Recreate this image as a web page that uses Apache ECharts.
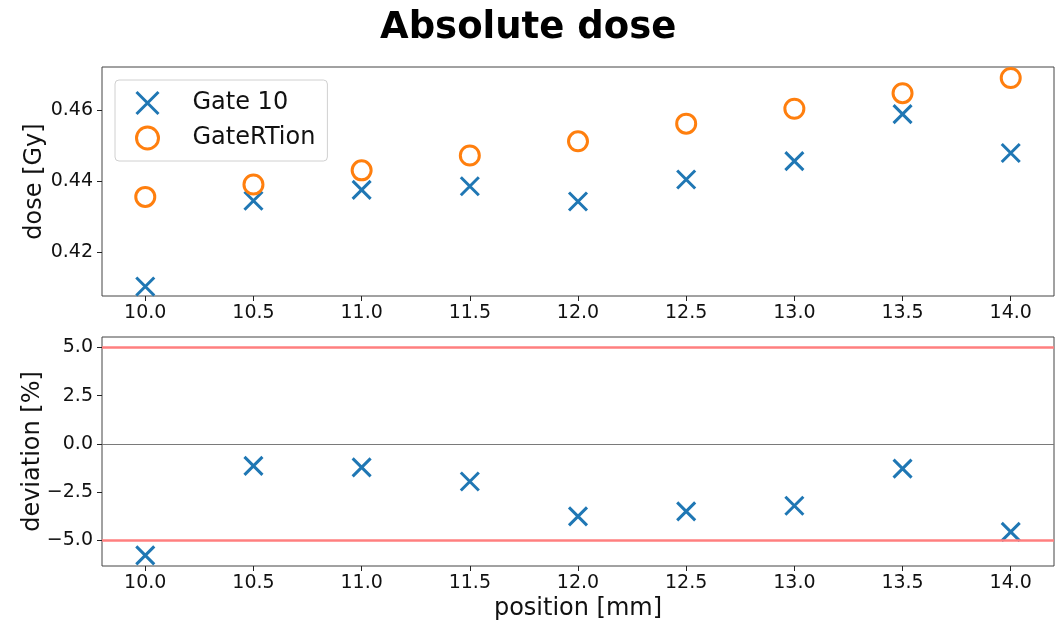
<!DOCTYPE html>
<html>
<head>
<meta charset="utf-8">
<title>Absolute dose</title>
<script src="https://cdn.jsdelivr.net/npm/echarts@6/dist/echarts.min.js"></script>
<style>
  html, body { margin: 0; padding: 0; background: #ffffff; }
  #chart { width: 1063px; height: 622px; }
</style>
</head>
<body>
<div id="chart"></div>
<script>
// Measurement positions along the profile [mm]
const positions = [10.0, 10.5, 11.0, 11.5, 12.0, 12.5, 13.0, 13.5, 14.0];
// Absolute dose per position [Gy]
const gate10 = [0.4102, 0.4344, 0.4375, 0.4385, 0.4342, 0.4404, 0.4456, 0.4589, 0.4479];
const gateRTion = [0.4355, 0.4390, 0.4430, 0.4472, 0.4512, 0.4562, 0.4604, 0.4648, 0.4691];
// Relative deviation of Gate 10 from GateRTion [%]
const deviation = [-5.78, -1.14, -1.22, -1.95, -3.76, -3.50, -3.21, -1.28, -4.56];
// Tick positions
const xTicks = [10.0, 10.5, 11.0, 11.5, 12.0, 12.5, 13.0, 13.5, 14.0];
const doseTicks = [0.42, 0.44, 0.46];
const devTicks = [-5.0, -2.5, 0.0, 2.5, 5.0];
// Tolerance band [%]
const tolerance = [5.0, -5.0];

const FONT = 'DejaVu Sans';
const BLUE = '#1f77b4';
const ORANGE = '#ff7f0e';
const CROSS = 'path://M0,0L20,20M20,0L0,20';

const pairs = (xs, ys) => xs.map((x, i) => [x, ys[i]]);
const fmtMinus = (v, d) => {
  const s = Math.abs(v).toFixed(d);
  return (v < -1e-9 ? '\u2212' : '') + s;
};

const axisLineStyle = { show: false, onZero: false };
const tickStyle = { show: true, inside: false, length: 5, lineStyle: { color: '#222', width: 1 } };
const labelStyle = { color: '#111', fontFamily: FONT, fontSize: 19 };
const nameStyle = { fontFamily: FONT, fontSize: 24, color: '#111' };

function xAxisFor(gridIndex, withName) {
  return {
    type: 'value', gridIndex: gridIndex,
    min: 9.8, max: 14.2,
    axisLine: axisLineStyle,
    splitLine: { show: false },
    axisTick: Object.assign({ customValues: xTicks }, tickStyle),
    axisLabel: Object.assign({ customValues: xTicks, margin: 8, formatter: v => v.toFixed(1) }, labelStyle),
    name: withName ? 'position [mm]' : '',
    nameLocation: 'middle',
    nameGap: 31,
    nameMoveOverlap: false,
    nameTextStyle: nameStyle
  };
}

const option = {
  animation: false,
  backgroundColor: '#ffffff',
  title: {
    text: 'Absolute dose',
    left: 375, top: 5,
    textStyle: { fontFamily: FONT, fontSize: 37, fontWeight: 'bold', color: '#000' }
  },
  legend: {
    orient: 'vertical',
    left: 115, top: 80,
    padding: [10, 12, 10, 20],
    itemWidth: 26, itemHeight: 22, itemGap: 9,
    backgroundColor: 'rgba(255,255,255,0.8)',
    borderColor: '#d0d0d0', borderWidth: 1, borderRadius: 4,
    textStyle: { fontFamily: FONT, fontSize: 24, color: '#111', lineHeight: 26, padding: [0, 0, 0, 27] },
    data: [
      { name: 'Gate 10', icon: CROSS, itemStyle: { color: 'rgba(0,0,0,0)', borderColor: BLUE, borderWidth: 3 } },
      { name: 'GateRTion', icon: 'circle', itemStyle: { color: 'rgba(0,0,0,0)', borderColor: ORANGE, borderWidth: 3 } }
    ]
  },
  grid: [
    { left: 102, top: 67, width: 952, height: 229, show: true, borderColor: '#444', borderWidth: 1, backgroundColor: 'transparent' },
    { left: 102, top: 337, width: 952, height: 230, show: true, borderColor: '#444', borderWidth: 1, backgroundColor: 'transparent' }
  ],
  xAxis: [xAxisFor(0, false), xAxisFor(1, true)],
  yAxis: [
    {
      type: 'value', gridIndex: 0,
      min: 0.4075, max: 0.4722,
      axisLine: axisLineStyle,
      splitLine: { show: false },
      axisTick: Object.assign({ customValues: doseTicks }, tickStyle),
      axisLabel: Object.assign({ customValues: doseTicks, margin: 9, formatter: v => v.toFixed(2) }, labelStyle),
      name: 'dose [Gy]', nameLocation: 'middle', nameGap: 55, nameMoveOverlap: false,
      nameTextStyle: nameStyle
    },
    {
      type: 'value', gridIndex: 1,
      min: -6.33, max: 5.54,
      axisLine: axisLineStyle,
      splitLine: { show: false },
      axisTick: Object.assign({ customValues: devTicks }, tickStyle),
      axisLabel: Object.assign({ customValues: devTicks, margin: 9, formatter: v => fmtMinus(v, 1) }, labelStyle),
      name: 'deviation [%]', nameLocation: 'middle', nameGap: 57, nameMoveOverlap: false,
      nameTextStyle: nameStyle
    }
  ],
  series: [
    {
      name: 'Gate 10', type: 'scatter', xAxisIndex: 0, yAxisIndex: 0,
      data: pairs(positions, gate10),
      symbol: CROSS, symbolSize: 18,
      itemStyle: { color: 'rgba(0,0,0,0)', borderColor: BLUE, borderWidth: 3, opacity: 1 },
      z: 3
    },
    {
      name: 'GateRTion', type: 'scatter', xAxisIndex: 0, yAxisIndex: 0,
      data: pairs(positions, gateRTion),
      symbol: 'circle', symbolSize: 19,
      itemStyle: { color: 'rgba(0,0,0,0)', borderColor: ORANGE, borderWidth: 3, opacity: 1 },
      z: 4
    },
    {
      name: 'deviation', type: 'scatter', xAxisIndex: 1, yAxisIndex: 1,
      data: pairs(positions, deviation),
      symbol: CROSS, symbolSize: 18,
      itemStyle: { color: 'rgba(0,0,0,0)', borderColor: BLUE, borderWidth: 3, opacity: 1 },
      z: 4,
      markLine: {
        silent: true, symbol: 'none', animation: false,
        label: { show: false },
        data: [
          { yAxis: 0, lineStyle: { color: '#7a7a7a', width: 1.2, type: 'solid' } },
          { yAxis: tolerance[0], lineStyle: { color: '#ff7f7f', width: 2.5, type: 'solid' } },
          { yAxis: tolerance[1], lineStyle: { color: '#ff7f7f', width: 2.5, type: 'solid' } }
        ]
      }
    }
  ]
};

const chart = echarts.init(document.getElementById('chart'), null, { renderer: 'canvas' });
chart.setOption(option);
</script>
</body>
</html>
